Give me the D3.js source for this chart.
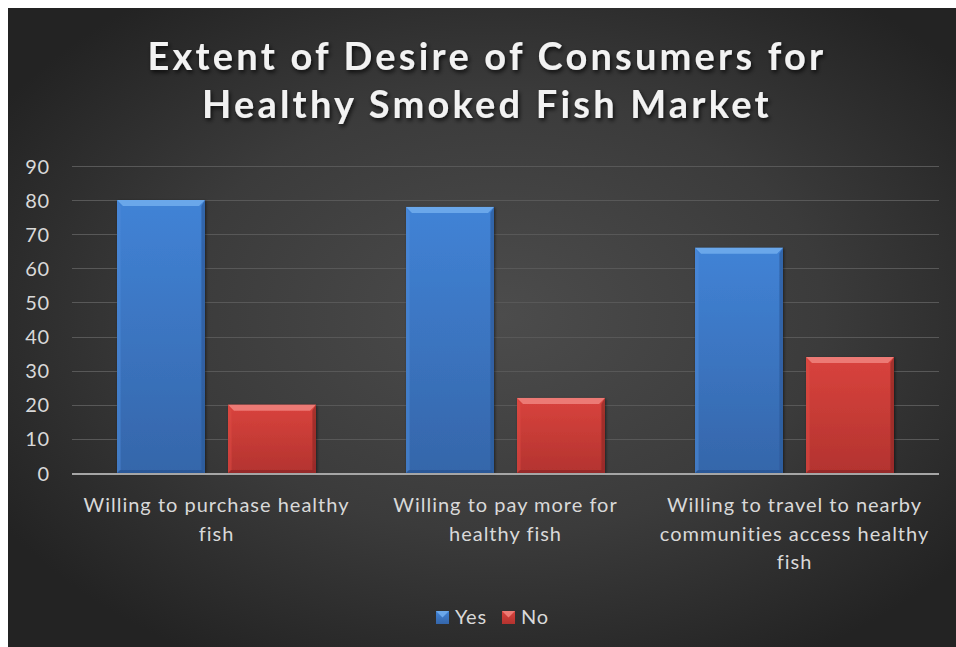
<!DOCTYPE html>
<html>
<head>
<meta charset="utf-8">
<script src="https://cdn.jsdelivr.net/npm/d3@7"></script>
<style>
  html, body { margin: 0; padding: 0; background: #ffffff; }
  svg { display: block; }
</style>
</head>
<body>
<svg id="chart" width="956" height="647"></svg>
<script>
const titleLines = ["Extent of Desire of Consumers for", "Healthy Smoked Fish Market"];
const categories = [
  "Willing to purchase healthy fish",
  "Willing to pay more for healthy fish",
  "Willing to travel to nearby communities access healthy fish"
];
const seriesNames = ["Yes", "No"];
const yesValues = [80, 78, 66];
const noValues = [20, 22, 34];
const yTicks = [0, 10, 20, 30, 40, 50, 60, 70, 80, 90];

const W = 956, H = 647;
const font = "Lato, 'Open Sans', sans-serif";
const svg = d3.select("#chart");
const defs = svg.append("defs");

// background gradient
const bg = defs.append("radialGradient").attr("id", "bg")
  .attr("cx", "52%").attr("cy", "48%").attr("r", "62%");
bg.append("stop").attr("offset", "0%").attr("stop-color", "#4c4c4c");
bg.append("stop").attr("offset", "55%").attr("stop-color", "#3b3b3b");
bg.append("stop").attr("offset", "100%").attr("stop-color", "#232323");

svg.append("rect").attr("x", 8).attr("y", 8).attr("width", W - 8).attr("height", H - 8)
  .attr("fill", "url(#bg)");

// title shadow
const sh = defs.append("filter").attr("id", "tshadow").attr("x", "-10%").attr("y", "-30%").attr("width", "120%").attr("height", "160%");
sh.append("feDropShadow").attr("dx", 1.5).attr("dy", 2.5).attr("stdDeviation", 2)
  .attr("flood-color", "#000").attr("flood-opacity", 0.75);

const title = svg.append("text")
  .attr("x", 487).attr("y", 70)
  .attr("text-anchor", "middle")
  .attr("font-family", font).attr("font-weight", "bold")
  .attr("font-size", 38).attr("letter-spacing", 3.2)
  .attr("fill", "#f2f2f2").attr("filter", "url(#tshadow)");
titleLines.forEach((t, i) => {
  title.append("tspan").attr("x", 487).attr("dy", i === 0 ? 0 : 48).text(t);
});

// scales
const x0 = d3.scaleBand().domain(categories).range([72, 939]).paddingInner(0).paddingOuter(0);
const y = d3.scaleLinear().domain([0, 90]).range([473, 166]);

// gridlines
svg.append("g").selectAll("line").data(yTicks.filter(d => d > 0)).join("line")
  .attr("x1", 72).attr("x2", 939)
  .attr("y1", d => Math.round(y(d)) + 0.5).attr("y2", d => Math.round(y(d)) + 0.5)
  .attr("stroke", "#585858").attr("stroke-width", 1);

// y axis labels
const yAxis = d3.axisLeft(y).tickValues(yTicks).tickSize(0).tickPadding(0);
const gy = svg.append("g").attr("transform", "translate(50,0)").call(yAxis);
gy.select(".domain").remove();
gy.selectAll("text").attr("font-family", font).attr("font-size", 20).attr("letter-spacing", 0.8)
  .attr("fill", "#d9d9d9").attr("dy", "0.35em");

// bars
const bandW = x0.bandwidth();
const barW = 88, gap = 23;
const groupW = barW * 2 + gap;
const off = (bandW - groupW) / 2;

const palettes = {
  Yes: { top: "#6aa7ea", left: "#4d8ad8", right: "#2c5a98", bottom: "#2a5490", g1: "#4183d6", g2: "#3566aa" },
  No:  { top: "#ec7a74", left: "#dc4a44", right: "#8e2a27", bottom: "#8a2926", g1: "#d9433d", g2: "#b3332f" }
};
seriesNames.forEach(s => {
  const p = palettes[s];
  const lg = defs.append("linearGradient").attr("id", "g" + s).attr("x1", 0).attr("y1", 0).attr("x2", 0).attr("y2", 1);
  lg.append("stop").attr("offset", "0%").attr("stop-color", p.g1);
  lg.append("stop").attr("offset", "100%").attr("stop-color", p.g2);
});

const bshadow = defs.append("filter").attr("id", "bshadow").attr("x", "-20%").attr("y", "-20%").attr("width", "140%").attr("height", "140%");
bshadow.append("feDropShadow").attr("dx", 1).attr("dy", 1).attr("stdDeviation", 1.5)
  .attr("flood-color", "#000").attr("flood-opacity", 0.5);

const barData = [];
categories.forEach((c, i) => {
  barData.push({ cat: c, s: "Yes", v: yesValues[i] });
  barData.push({ cat: c, s: "No", v: noValues[i] });
});

const bev = 6;
const bars = svg.append("g").selectAll("g").data(barData).join("g").attr("filter", "url(#bshadow)");
bars.each(function(d) {
  const g = d3.select(this);
  const p = palettes[d.s];
  const xl = x0(d.cat) + off + (d.s === "Yes" ? 0 : barW + gap);
  const xr = xl + barW;
  const yt = y(d.v), yb = y(0);
  g.append("rect").attr("x", xl).attr("y", yt).attr("width", barW).attr("height", yb - yt)
    .attr("fill", "url(#g" + d.s + ")");
  g.append("polygon").attr("points", [[xl, yt], [xr, yt], [xr - bev, yt + bev], [xl + bev, yt + bev]].join(" "))
    .attr("fill", p.top);
  g.append("polygon").attr("points", [[xl, yt], [xl + bev * 0.6, yt + bev], [xl + bev * 0.6, yb - 3], [xl, yb]].join(" "))
    .attr("fill", p.left).attr("opacity", 0.55);
  g.append("polygon").attr("points", [[xr, yt], [xr - bev * 0.6, yt + bev], [xr - bev * 0.6, yb - 3], [xr, yb]].join(" "))
    .attr("fill", p.right).attr("opacity", 0.7);
  g.append("polygon").attr("points", [[xl, yb], [xr, yb], [xr - 3, yb - 3], [xl + 3, yb - 3]].join(" "))
    .attr("fill", p.bottom).attr("opacity", 0.7);
});

// baseline axis
svg.append("line").attr("x1", 72).attr("x2", 939).attr("y1", y(0) + 1).attr("y2", y(0) + 1)
  .attr("stroke", "#a6a6a6").attr("stroke-width", 2);

// category labels with wrapping
const xAxis = d3.axisBottom(x0).tickSize(0).tickPadding(0);
const gx = svg.append("g").attr("transform", "translate(0,474)").call(xAxis);
gx.select(".domain").remove();
gx.selectAll("text").each(function(d) {
  const t = d3.select(this);
  t.text(null).attr("font-family", font).attr("font-size", 20).attr("letter-spacing", 1)
    .attr("fill", "#d9d9d9").attr("text-anchor", "middle").attr("y", 0).attr("dy", null);
  const words = d.split(" ");
  let line = [];
  let lineNo = 0;
  let ts = t.append("tspan").attr("x", 0).attr("y", 38);
  words.forEach(w => {
    line.push(w);
    ts.text(line.join(" "));
    if (ts.node().getComputedTextLength() > 285 && line.length > 1) {
      line.pop();
      ts.text(line.join(" "));
      line = [w];
      lineNo++;
      ts = t.append("tspan").attr("x", 0).attr("y", 38 + lineNo * 28.5).text(w);
    }
  });
});

// legend
const legend = svg.append("g").attr("transform", "translate(436,611)");
const legX = [0, 66];
seriesNames.forEach((s, i) => {
  const p = palettes[s];
  const g = legend.append("g").attr("transform", `translate(${legX[i]},0)`);
  g.append("rect").attr("width", 13).attr("height", 13).attr("fill", "url(#g" + s + ")");
  g.append("polygon").attr("points", "0,0 13,0 6.5,6.5").attr("fill", p.top);
  g.append("text").attr("x", 19).attr("y", 13).attr("font-family", font).attr("font-size", 20)
    .attr("letter-spacing", 0.8).attr("fill", "#d9d9d9").text(s);
});
</script>
</body>
</html>
